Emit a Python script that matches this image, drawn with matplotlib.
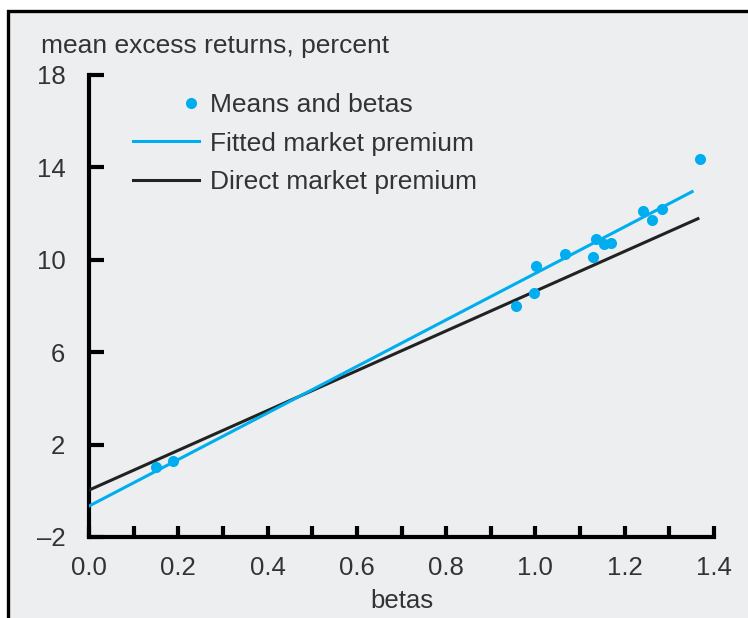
import matplotlib
matplotlib.use("Agg")
import matplotlib.pyplot as plt
from matplotlib.patches import Rectangle
from matplotlib.legend_handler import HandlerLine2D
import numpy as np

# ---- data ----
betas = [0.151, 0.189, 0.956, 0.996, 1.002, 1.067, 1.129, 1.136, 1.153, 1.169,
         1.240, 1.260, 1.284, 1.369]
means = [1.02, 1.28, 7.98, 8.58, 9.75, 10.27, 10.14, 10.92, 10.70, 10.74,
         12.13, 11.74, 12.21, 14.37]
fitted_x = [0.0, 1.351]
fitted_y = [-0.66, 12.95]
direct_x = [0.0, 1.364]
direct_y = [0.03, 11.78]
xticks = [0.0, 0.2, 0.4, 0.6, 0.8, 1.0, 1.2, 1.4]
xtick_labels = ["0.0", "0.2", "0.4", "0.6", "0.8", "1.0", "1.2", "1.4"]
xminor = [0.1, 0.3, 0.5, 0.7, 0.9, 1.1, 1.3]
yticks = [-2, 2, 6, 10, 14, 18]
ytick_labels = ["\u20132", "2", "6", "10", "14", "18"]

BLUE = "#00aeef"
BG = "#edeef0"
TXT = "#333333"
plt.rcParams['font.family'] = ["Liberation Sans", "DejaVu Sans"]

W, H = 748, 618
fig = plt.figure(figsize=(W / 100, H / 100), dpi=100, facecolor="white")
fig.patches.append(Rectangle((8 / W, -0.1), 1.2, 1.1 - 11 / H, transform=fig.transFigure,
                             facecolor=BG, edgecolor="black", linewidth=2.4, zorder=-10))

ax = fig.add_axes([89 / W, 1 - 537 / H, (714 - 89) / W, (537 - 75) / H])
ax.set_facecolor(BG)
ax.patch.set_alpha(0)

ax.plot(direct_x, direct_y, color="#222222", lw=2.2, label="Direct market premium", zorder=3)
ax.plot(fitted_x, fitted_y, color=BLUE, lw=2.2, label="Fitted market premium", zorder=3)
ax.plot(betas, means, linestyle="none", marker="o", ms=8, color=BLUE,
        markeredgewidth=0, label="Means and betas", zorder=4)

ax.set_xlim(0, 1.4)
ax.set_ylim(-2, 18)
for s in ["top", "right"]:
    ax.spines[s].set_visible(False)
for s in ["left", "bottom"]:
    ax.spines[s].set_linewidth(3)
    ax.spines[s].set_capstyle("projecting")

ax.set_xticks(xticks)
ax.set_xticklabels(xtick_labels)
ax.set_xticks(xminor, minor=True)
ax.set_yticks(yticks)
ax.set_yticklabels(ytick_labels)
ax.tick_params(axis="both", which="both", direction="in", width=3,
               labelsize=18.5, colors="black", labelcolor=TXT)
ax.tick_params(axis="x", which="both", length=8, pad=14)
ax.tick_params(axis="y", length=10.5, pad=17)

ax.set_xlabel("betas", fontsize=18.5, color=TXT, va="baseline")
ax.xaxis.set_label_coords(0.5, -(608 - 537) / 462)

fig.text(41 / W, 1 - 53 / H, "mean excess returns, percent", fontsize=19,
         color=TXT, va="baseline", ha="left")


class RightMarker(HandlerLine2D):
    def get_xdata(self, legend, xdescent, ydescent, width, height, fontsize):
        x = np.array([-xdescent + width - 6.0])
        return x, x


h, l = ax.get_legend_handles_labels()
order = [2, 1, 0]
leg = ax.legend([h[i] for i in order], [l[i] for i in order], loc="upper left",
                bbox_to_anchor=((133 - 89) / 625, (537 - 93) / 462), frameon=False,
                fontsize=19, handlelength=2.5, handletextpad=0.42, labelspacing=0.55,
                borderpad=0, borderaxespad=0,
                handler_map={h[2]: RightMarker(numpoints=1)})
for t in leg.get_texts():
    t.set_color(TXT)

fig.savefig("out.png", dpi=100, facecolor="white")
